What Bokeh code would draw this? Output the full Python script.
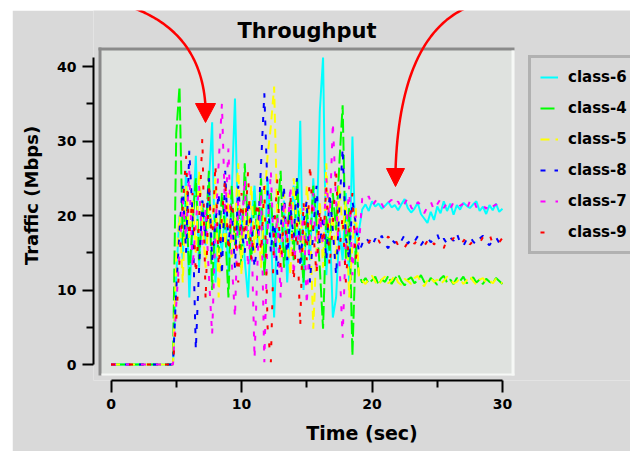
import numpy as np
from bokeh.plotting import figure
from bokeh.models import (Range1d, FixedTicker, BoxAnnotation, PolyAnnotation,
                          Legend, LegendItem, Label)
from bokeh.embed import file_html
from bokeh.resources import INLINE

# ---------------- data ----------------
time = [round(0.25 * k, 2) for k in range(121)]   # 0 .. 30 s, 0.25 s steps
idle = [0.0] * 20                                  # 0 .. 4.75 s: no traffic

class_6 = idle + [12, 20, 14, 26, 9, 18, 28, 13, 22, 16, 24, 32.5, 11, 19, 15, 21, 12, 23, 35.7, 17,
                  20, 14, 9, 19, 24, 16, 21, 13, 25, 18, 6.3, 20, 15, 22, 11, 19, 24, 16, 32.7, 10,
                  21, 14, 25, 17, 34, 41.2, 12, 20, 6.3, 9, 18, 14, 23, 11, 30.6, 15, 18,
                  20.8, 21.5, 20.6, 21.9, 21.2, 21.6, 20.9, 21.3, 21.8, 21.1, 21.4, 20.7, 21.5, 22.2,
                  21.0, 20.4, 20.9, 21.7, 20.2, 19.6, 19.0, 20.5, 19.4, 21.2, 20.3, 21.9, 20.6, 21.6,
                  20.1, 21.4, 20.8, 21.7, 21.3, 21.0, 21.5, 21.9, 20.6, 21.2, 20.2, 21.4, 20.7, 21.6,
                  20.5, 20.9]
class_4 = idle + [31, 37.3, 16, 22, 12, 19, 25, 14, 21, 17, 26, 10, 20, 15, 23, 18, 9, 24, 16, 21,
                  13, 27, 18, 14, 22, 17, 25, 12, 19, 23, 15, 20, 26, 13, 18, 22, 14, 25, 17, 11,
                  21, 16, 24, 19, 13, 4.8, 20, 15, 23, 18, 27, 34.8, 14, 21, 1.2, 16, 12,
                  11.0, 11.6, 10.9, 11.3, 11.8, 10.7, 11.4, 11.1, 11.9, 10.8, 11.5, 12.1, 11.2, 10.6,
                  11.4, 11.7, 10.9, 11.3, 12.0, 11.1, 10.8, 11.6, 11.2, 10.7, 11.5, 11.9, 11.0, 11.4,
                  10.8, 11.6, 11.2, 11.8, 10.9, 11.3, 11.7, 11.0, 11.4, 10.8, 11.5, 11.1, 10.9, 11.6,
                  11.2, 10.8]
class_5 = idle + [14, 20, 11, 24, 17, 22, 15, 26, 19, 13, 21, 18, 25, 9, 20, 16, 23, 14, 19, 27,
                  12, 21, 17, 24, 15, 20, 13, 22, 28, 32, 37.3, 19, 14, 23, 17, 12, 25, 18, 21, 15,
                  24, 19, 4.8, 16, 22, 13, 27, 17, 20, 14, 24, 18, 22, 9, 16, 21, 11.5,
                  11.3, 10.8, 11.5, 11.9, 11.1, 10.6, 11.4, 11.8, 10.9, 11.3, 12.0, 11.0, 10.7, 11.5,
                  11.2, 10.8, 11.6, 11.9, 11.0, 10.5, 11.3, 11.7, 11.1, 11.4, 10.8, 11.2, 11.8, 11.5,
                  10.9, 11.1, 11.6, 10.8, 11.3, 11.9, 11.2, 10.7, 11.4, 11.6, 11.0, 11.3, 10.9, 11.5,
                  11.1, 10.9]
class_8 = idle + [10, 18, 24, 15, 28.7, 20, 2, 13, 22, 17, 25, 14, 19, 23, 12, 26, 16, 21, 13, 24,
                  18, 15, 22, 19, 13, 17, 27, 36.4, 23, 15, 20, 12, 18, 24, 14, 21, 17, 25, 13, 19,
                  22, 11, 18, 24, 16, 20, 14, 23, 18, 12, 21, 29, 17, 14, 22, 19, 15,
                  16.2, 17.1, 16.5, 15.8, 16.9, 16.4, 17.3, 16.1, 15.6, 16.8, 16.3, 17.0, 16.6, 17.4,
                  16.2, 16.9, 16.5, 17.2, 16.0, 16.7, 17.1, 16.4, 16.8, 17.5, 16.3, 16.9, 16.2, 17.0,
                  16.6, 17.6, 16.4, 15.9, 16.8, 17.2, 16.5, 16.1, 16.9, 17.3, 16.4, 16.0, 16.7, 17.1,
                  16.3, 16.6]
class_7 = idle + [8, 15, 22, 17, 26, 13, 19, 24, 16, 21, 12, 4, 18, 27, 35, 20, 29, 14, 6.3, 22,
                  17, 25, 13, 19, 0.8, 15, 23, 0.3, 18, 26, 14, 20, 9, 22, 17, 24, 12, 19, 15, 21,
                  8, 18, 23, 13, 20, 16, 25, 19, 32.5, 22, 14, 3.6, 17, 24, 12, 20, 16,
                  22.3, 21.8, 22.6, 21.2, 21.9, 22.4, 21.5, 20.8, 21.7, 22.1, 21.3, 21.9, 20.9, 21.6,
                  22.4, 21.1, 20.6, 21.8, 21.4, 20.3, 21.2, 21.9, 20.7, 21.5, 22.2, 21.0, 21.7, 20.9,
                  21.8, 22.0, 21.3, 21.6, 20.8, 21.9, 22.3, 21.1, 21.6, 21.4, 20.9, 21.7, 21.2, 21.5,
                  21.0, 21.3]
class_9 = idle + [6, 14, 21, 28, 17, 23, 12, 19, 30.5, 8.5, 24, 16, 27, 13, 20, 25, 15, 22, 18, 11,
                  23, 17, 26, 14, 19, 22, 15, 24, 5, 0.3, 18, 25, 13, 20, 16, 23, 11, 19, 5, 22,
                  14, 27, 18, 12, 21, 16, 24, 13, 19, 26, 15, 20, 11, 18, 23, 14, 17,
                  16.8, 15.9, 16.4, 17.0, 16.2, 16.7, 15.8, 16.5, 17.2, 16.3, 16.9, 16.0, 16.6, 15.7,
                  16.4, 17.1, 16.2, 16.8, 16.5, 15.9, 16.6, 17.3, 16.1, 16.7, 16.3, 15.6, 16.9, 16.4,
                  17.0, 16.2, 16.8, 16.5, 17.4, 16.1, 16.6, 16.9, 16.3, 17.1, 16.7, 17.5, 16.2, 16.8,
                  16.4, 17.0]

names = ["class-6", "class-4", "class-5", "class-8", "class-7", "class-9"]
values = [class_6, class_4, class_5, class_8, class_7, class_9]
colors = ["#00ffff", "#00ff00", "#ffff00", "#0000ff", "#ff00ff", "#ff0000"]
dashes = ["solid", "14 4", "9 6", "5 9", "5 10", "4 14"]

title_text = "Throughput"
x_ticks = [0, 10, 20, 30]
x_minor = [5, 15, 25]
y_ticks = [0, 10, 20, 30, 40]
y_minor = [5, 15, 25, 35]

# ---------------- layout helpers (page pixel -> data) ----------------
X0, SX = 110.5, 13.05   # page x of t=0, px per second
Y0, SY = 364.0, 7.45    # page y of 0 Mbps, px per Mbps


def dx(px):
    return (px - X0) / SX


def dy(py):
    return (Y0 - py) / SY


PANEL = "#d9d9d9"
PLOT_BG = "#dfe2df"
FONT = "DejaVu Sans"
INK = "#000000"

# frame covers the whole canvas above the x axis and right of the y axis,
# so the call-out arrows and the title can be drawn above the plot area
p = figure(width=618, height=441, output_backend="svg", toolbar_location=None, title=None,
           x_range=Range1d(dx(93), dx(630)), y_range=Range1d(dy(380), dy(10)),
           min_border_left=81, min_border_right=0, min_border_top=0, min_border_bottom=71)
p.margin = (10, 0, 0, 12)
p.background_fill_color = PANEL
p.border_fill_color = PANEL
p.outline_line_color = None
p.xgrid.visible = False
p.ygrid.visible = False

p.add_layout(Label(x=dx(306.5), y=dy(30), text=title_text, text_align="center",
                   text_baseline="alphabetic", text_font=FONT, text_font_size="21px",
                   text_font_style="bold", text_color=INK))

# plot area with bevelled border
p.add_layout(BoxAnnotation(left=dx(98), right=dx(514), top=dy(47), bottom=dy(375),
                           fill_color=PLOT_BG, fill_alpha=1, line_color=None, level="underlay"))
for l, r, t, b, c in [(98, 514, 47, 50, "#8a8a8a"), (98, 101, 47, 375, "#8a8a8a"),
                      (511, 514, 50, 375, "#f6f8f6"), (101, 514, 373, 375, "#f6f8f6")]:
    p.add_layout(BoxAnnotation(left=dx(l), right=dx(r), top=dy(t), bottom=dy(b),
                               fill_color=c, fill_alpha=1, line_color=None, level="underlay"))

# axes
for ax, bounds, tk, mn, tout, mout in [(p.xaxis[0], (0, 30), x_ticks, x_minor, 12, 7),
                                       (p.yaxis[0], (0, 41.2), y_ticks, y_minor, 11, 7)]:
    ax.bounds = bounds
    ax.ticker = FixedTicker(ticks=tk, minor_ticks=mn)
    ax.major_tick_out = tout
    ax.major_tick_in = 0
    ax.minor_tick_out = mout
    ax.minor_tick_in = 0
    ax.axis_line_width = 2
    ax.axis_line_color = INK
    ax.major_tick_line_width = 2
    ax.major_tick_line_color = INK
    ax.minor_tick_line_width = 2
    ax.minor_tick_line_color = INK
    ax.major_label_text_font = FONT
    ax.major_label_text_font_style = "bold"
    ax.major_label_text_font_size = "14px"
    ax.major_label_text_color = INK
    ax.major_label_standoff = 6
    ax.axis_label_text_font = FONT
    ax.axis_label_text_font_style = "bold"
    ax.axis_label_text_color = INK

p.xaxis.axis_label = "Time (sec)"
p.xaxis.axis_label_text_font_size = "19px"
p.xaxis.axis_label_standoff = 10
p.yaxis.axis_label = "Traffic (Mbps)"
p.yaxis.axis_label_text_font_size = "18px"
p.yaxis.axis_label_standoff = 12

# series
items = []
for name, vals, col, dash in zip(names, values, colors, dashes):
    r = p.line(time, vals, line_color=col, line_width=2, line_dash=dash)
    items.append(LegendItem(label=name, renderers=[r]))

legend = Legend(items=items, location=(435, 126), orientation="vertical",
                border_line_color="#8a8a8a", border_line_width=3,
                background_fill_color=PANEL, background_fill_alpha=1,
                label_text_font=FONT, label_text_font_style="bold", label_text_font_size="15px",
                label_text_color=INK,
                glyph_width=18, glyph_height=20, label_height=20, spacing=11,
                padding=9, label_standoff=10, margin=0)
p.add_layout(legend)


# red call-out arrows
def bezier(p0, p1, p2, n=40):
    ts = np.linspace(0, 1, n)
    xs = (1 - ts) ** 2 * p0[0] + 2 * ts * (1 - ts) * p1[0] + ts ** 2 * p2[0]
    ys = (1 - ts) ** 2 * p0[1] + 2 * ts * (1 - ts) * p1[1] + ts ** 2 * p2[1]
    return list(xs), list(ys)


for (p0, p1, p2), head in [(((107, 0), (200, 20), (205, 106)), [(195, 103), (215, 103), (205, 122)]),
                           (((490, 0), (400, 15), (395, 170)), [(386, 168), (404, 168), (395, 186)])]:
    xs, ys = bezier(p0, p1, p2)
    xs = xs + xs[::-1]
    ys = ys + ys[::-1]
    p.add_layout(PolyAnnotation(xs=[dx(v) for v in xs], ys=[dy(v) for v in ys],
                                fill_color=None, fill_alpha=0, line_color="#ff0000",
                                line_alpha=1, line_width=2.5, level="overlay"))
    p.add_layout(PolyAnnotation(xs=[dx(v[0]) for v in head], ys=[dy(v[1]) for v in head],
                                fill_color="#ff0000", fill_alpha=1, line_color="#ff0000",
                                line_alpha=1, line_width=1, level="overlay"))

open("out.html", "w").write(file_html(p, INLINE))
